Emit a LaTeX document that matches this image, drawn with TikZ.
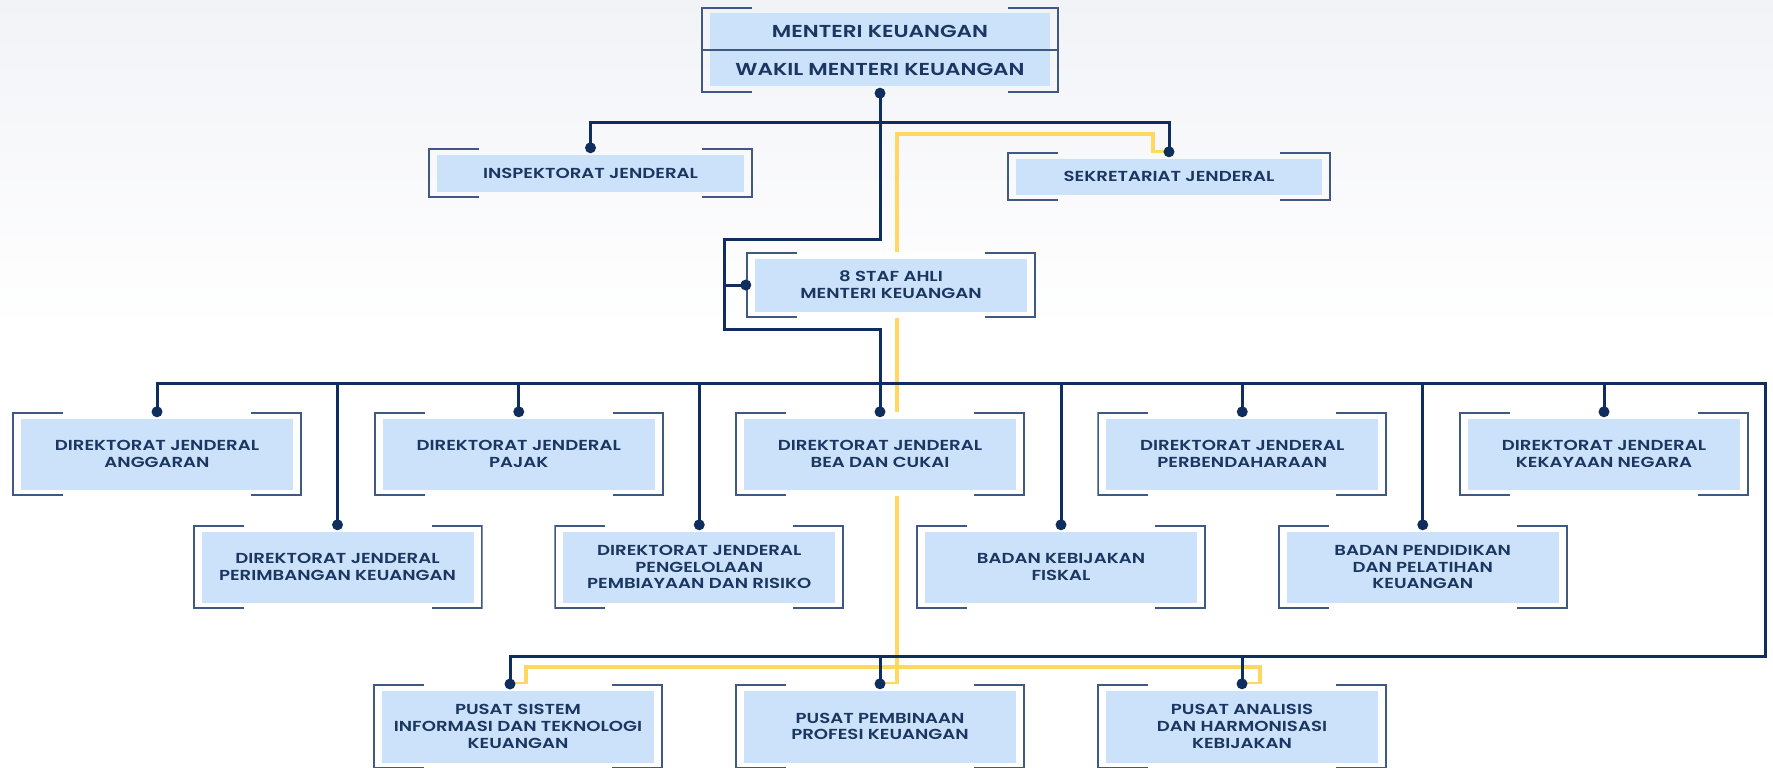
\documentclass[tikz,border=0pt]{standalone}
\usepackage{fontspec}
\newfontfamily\orgfont{Poppins SemiBold}[FakeStretch=1.25]
\definecolor{navy}{HTML}{0F2E5E}
\definecolor{brk}{HTML}{3F5884}
\definecolor{boxfill}{HTML}{CCE2FA}
\definecolor{txt}{HTML}{1B3761}
\definecolor{ylw}{HTML}{FFD862}
\definecolor{bgtop}{HTML}{F2F3F7}
\newcommand\orgdot[1]{\fill[navy] (#1) circle (5.5pt);}
\begin{document}
\begin{tikzpicture}[x=1pt,y=-1pt,
  orgbox/.style={minimum width=290pt, minimum height=84pt, inner sep=0pt,
    align=center, text=txt, font=\orgfont\fontsize{14.5}{16.8}\selectfont,
    path picture={
      \fill[boxfill] ([shift={(9pt,-6.5pt)}]path picture bounding box.north west)
        rectangle ([shift={(-9pt,6.5pt)}]path picture bounding box.south east);
      \draw[brk, line width=2pt]
        ([shift={(51pt,-1pt)}]path picture bounding box.north west) --
        ([shift={(1pt,-1pt)}]path picture bounding box.north west) --
        ([shift={(1pt,1pt)}]path picture bounding box.south west) --
        ([shift={(51pt,1pt)}]path picture bounding box.south west);
      \draw[brk, line width=2pt]
        ([shift={(-51pt,-1pt)}]path picture bounding box.north east) --
        ([shift={(-1pt,-1pt)}]path picture bounding box.north east) --
        ([shift={(-1pt,1pt)}]path picture bounding box.south east) --
        ([shift={(-51pt,1pt)}]path picture bounding box.south east);
    }},
  opaque/.style={fill=white},
  navyline/.style={draw=navy, line width=3pt},
  yline/.style={draw=ylw, line width=3.3pt},
  toptext/.style={inner sep=0pt, text=txt, font=\orgfont\fontsize{17.3}{19}\selectfont}
  ]
\useasboundingbox (0,0) rectangle (1773,768);
\fill[white] (0,0) rectangle (1773,768);
\shade[top color=bgtop, bottom color=white] (0,0) rectangle (1773,330);

% coordinates of the connectors
\coordinate (jl1) at (724,239);
\coordinate (jl2) at (724,329);
\coordinate (bar) at (880,122);
\coordinate (busR) at (1765,383);
\coordinate (botR) at (1765,656);
\coordinate (y1) at (1153,134);
\coordinate (y2) at (897,134);
\coordinate (yb1) at (526,667);
\coordinate (yb2) at (1260,667);

\path
  node[orgbox, minimum width=358pt, minimum height=86pt] (top) at (880,50) {}
  node[orgbox, minimum width=325pt, minimum height=50pt] (insp) at (590.5,173) {INSPEKTORAT JENDERAL}
  node[orgbox, minimum width=324pt, minimum height=49pt] (sek) at (1169,176.5) {SEKRETARIAT JENDERAL};

\coordinate (psid) at (510,684);

% yellow lines
\draw[yline] (sek.north) -| (y1) -- (y2) |- (880,684);
\draw[yline] (psid) -| (yb1) -- (yb2) |- (1242,684);

% boxes crossing the lines
\path
  node[orgbox, opaque, minimum height=66pt] (staf) at (891,285) {8 STAF AHLI\\MENTERI KEUANGAN}
  node[orgbox, opaque] (dja) at (157,454) {DIREKTORAT JENDERAL\\ANGGARAN}
  node[orgbox, opaque] (djp) at (518.75,454) {DIREKTORAT JENDERAL\\PAJAK}
  node[orgbox, opaque] (djbc) at (880,454) {DIREKTORAT JENDERAL\\BEA DAN CUKAI}
  node[orgbox, opaque] (djpb) at (1242.25,454) {DIREKTORAT JENDERAL\\PERBENDAHARAAN}
  node[orgbox, opaque] (djkn) at (1604,454) {DIREKTORAT JENDERAL\\KEKAYAAN NEGARA}
  node[orgbox, opaque] (djpk) at (337.5,567) {DIREKTORAT JENDERAL\\PERIMBANGAN KEUANGAN}
  node[orgbox, opaque] (djppr) at (699.25,567) {DIREKTORAT JENDERAL\\PENGELOLAAN\\PEMBIAYAAN DAN RISIKO}
  node[orgbox, opaque] (bkf) at (1061,567) {BADAN KEBIJAKAN\\FISKAL}
  node[orgbox, opaque] (bppk) at (1422.75,567) {BADAN PENDIDIKAN\\DAN PELATIHAN\\KEUANGAN}
  node[orgbox, opaque, minimum height=85pt] (psi) at (518,726.5) {PUSAT SISTEM\\INFORMASI DAN TEKNOLOGI\\KEUANGAN}
  node[orgbox, opaque, minimum height=85pt] (ppp) at (880,726.5) {PUSAT PEMBINAAN\\PROFESI KEUANGAN}
  node[orgbox, opaque, minimum height=85pt] (pah) at (1242,726.5) {PUSAT ANALISIS\\DAN HARMONISASI\\KEBIJAKAN};

% top box texts and divider
\draw[brk, line width=2pt] (top.west) -- (top.east);
\node[toptext] (mk) at (880,31) {MENTERI KEUANGAN};
\node[toptext] (wmk) at (880,69.5) {WAKIL MENTERI KEUANGAN};

% navy lines
\draw[navyline] (top.south) |- (jl1) -- (jl2) -| (djbc.north);
\draw[navyline] (jl1 |- staf.west) -- (staf.west);
\draw[navyline] (insp.north) |- (bar) -| (sek.north);
\draw[navyline] (dja.north) |- (busR) -- (botR) -| (psid);
\foreach \n in {djp,djpb,djkn,djpk,djppr,bkf,bppk}
  {\draw[navyline] (\n.north) -- (\n.north |- busR);}
\draw[navyline] (ppp.north) -- (ppp.north |- botR);
\draw[navyline] (pah.north) -- (pah.north |- botR);

% dots
\orgdot{top.south}
\orgdot{insp.north}
\orgdot{sek.north}
\orgdot{staf.west}
\foreach \n in {dja,djp,djbc,djpb,djkn,djpk,djppr,bkf,bppk,ppp,pah}
  {\orgdot{\n.north}}
\orgdot{psid}
\end{tikzpicture}
\end{document}
